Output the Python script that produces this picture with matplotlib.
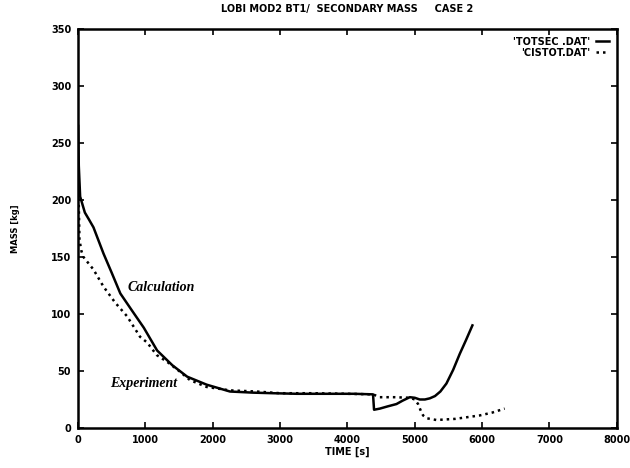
import matplotlib
matplotlib.use("Agg")
import matplotlib.pyplot as plt

# TOTSEC.DAT (calculation)
calc_t = [0, 10, 30, 100, 160, 228, 377, 500, 627, 800, 975, 1173, 1400, 1620, 1909, 2255, 2600, 2898, 3245, 3700, 4100, 4380,
          4395, 4481, 4600, 4728, 4820, 4926, 5000, 5074, 5150, 5223, 5300, 5380, 5470, 5570, 5668, 5760, 5856]
calc_m = [265, 230, 203, 189, 183, 176, 153, 136, 118, 103, 88, 68, 55, 45, 38, 32, 31, 30.5, 30, 30, 30, 29.5,
          16, 17, 19, 21, 24, 27, 26.5, 25, 25, 26, 28, 32, 39, 51, 65, 77, 90]

# CISTOT.DAT (experiment)
exp_t = [0, 10, 20, 50, 79, 228, 377, 550, 727, 920, 1025, 1167, 1323, 1500, 1662, 1909, 2255, 2651, 2997, 3500, 4000, 4380,
         4481, 4700, 4926, 5000, 5049, 5090, 5124, 5180, 5322, 5600, 5964, 6150, 6335]
exp_m = [230, 195, 165, 155, 150, 139, 124, 110, 98, 80, 75, 64, 58, 50, 42, 36, 33, 32, 30.5, 30.5, 30, 29.5,
         27, 27, 26.5, 25, 21, 15, 11, 8.5, 7, 8, 11, 13.5, 17]

title = "LOBI MOD2 BT1/  SECONDARY MASS     CASE 2"
x_ticks = [0, 1000, 2000, 3000, 4000, 5000, 6000, 7000, 8000]
y_ticks = [0, 50, 100, 150, 200, 250, 300, 350]

plt.rcParams['font.family'] = ['DejaVu Sans']
fig = plt.figure(figsize=(6.3, 4.68), dpi=100)
ax = fig.add_axes([0.124, 0.0855, 0.855, 0.8525])

ax.plot(calc_t, calc_m, color='black', lw=1.8, ls='-', label="'TOTSEC .DAT'")
ax.plot(exp_t, exp_m, color='black', lw=1.8, ls=(0, (1, 1.6)), label="'CISTOT.DAT'")

ax.set_xlim(0, 8000)
ax.set_ylim(0, 350)
ax.set_xticks(x_ticks)
ax.set_yticks(y_ticks)
ax.set_xticklabels([str(v) for v in x_ticks], fontsize=7, fontweight='bold')
ax.set_yticklabels([str(v) for v in y_ticks], fontsize=7, fontweight='bold')
ax.tick_params(direction='in', top=True, right=True, length=4, width=1.2, pad=5)
for s in ax.spines.values():
    s.set_linewidth(1.8)

ax.set_title(title, fontsize=7, fontweight='bold', pad=12)
ax.set_xlabel("TIME [s]", fontsize=7, fontweight='bold', labelpad=1)
ax.set_ylabel("MASS [kg]", fontsize=6, fontweight='bold', labelpad=22)

ax.text(727, 123, "Calculation", fontsize=10, fontweight='bold', style='italic',
        family='Liberation Serif', va='center', ha='left')
ax.text(475, 38.6, "Experiment", fontsize=10, fontweight='bold', style='italic',
        family='Liberation Serif', va='center', ha='left')

leg = ax.legend(loc='upper right', frameon=False, markerfirst=False,
                handlelength=1.3, handletextpad=0.6, labelspacing=0.1,
                borderaxespad=0.4, prop={'weight': 'bold', 'size': 7})

fig.savefig("out.png", dpi=100)
